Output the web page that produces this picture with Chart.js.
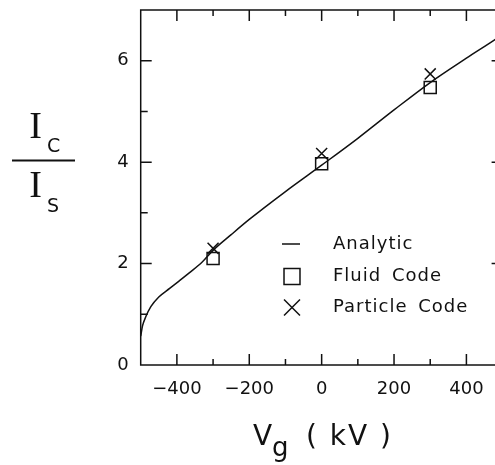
<!DOCTYPE html>
<html>
<head>
<meta charset="utf-8">
<script src="https://cdn.jsdelivr.net/npm/chart.js@4.4.1/dist/chart.umd.min.js"></script>
<style>
html, body { margin: 0; padding: 0; background: #fff; }
#wrap { width: 495px; height: 465px; overflow: hidden; }
canvas { display: block; }
</style>
</head>
<body>
<div id="wrap"><canvas id="myChart" width="520" height="465"></canvas></div>
<script>
// values: Vg in kV, ratio Ic / Is
const analyticV = [-500, -495, -486, -472, -450, -420, -395, -365, -330, -300, -250, -200, -100, 0, 100, 200, 300, 400, 480, 500];
const analyticRatio = [0.57, 0.77, 0.95, 1.15, 1.34, 1.51, 1.65, 1.82, 2.03, 2.26, 2.57, 2.87, 3.42, 3.94, 4.47, 5.03, 5.57, 6.05, 6.42, 6.52];
const fluidV = [-300, 0, 300];
const fluidRatio = [2.10, 3.97, 5.47];
const particleV = [-300, 0, 300];
const particleRatio = [2.30, 4.17, 5.74];
const xTickLabels = [-400, -200, 0, 200, 400];
const yTickLabels = [0, 2, 4, 6];

const ink = '#111';
const font = '"DejaVu Sans", sans-serif';

const toPoints = (xs, ys) => xs.map((v, i) => ({ x: v, y: ys[i] }));

// frame with inward ticks on all four sides
const frameTicks = {
    id: 'frameTicks',
    afterDatasetsDraw(chart) {
        const { ctx, chartArea: a, scales: { x, y } } = chart;
        ctx.save();
        ctx.strokeStyle = ink;
        ctx.lineWidth = 1.5;
        ctx.strokeRect(a.left, a.top, a.right - a.left, a.bottom - a.top);
        ctx.beginPath();
        x.ticks.forEach(t => {
            if (t.value <= x.min || t.value >= x.max) return;
            const px = x.getPixelForValue(t.value);
            const len = t.value % 200 === 0 ? 11 : 6;
            ctx.moveTo(px, a.bottom); ctx.lineTo(px, a.bottom - len);
            ctx.moveTo(px, a.top); ctx.lineTo(px, a.top + len);
        });
        y.ticks.forEach(t => {
            if (t.value <= y.min || t.value >= y.max) return;
            const py = y.getPixelForValue(t.value);
            const len = t.value % 2 === 0 ? 11 : 7;
            ctx.moveTo(a.left, py); ctx.lineTo(a.left + len, py);
            ctx.moveTo(a.right, py); ctx.lineTo(a.right - len, py);
        });
        ctx.stroke();
        ctx.restore();
    }
};

// legend inside the plot, symbols taken from the datasets
const innerLegend = {
    id: 'innerLegend',
    afterDraw(chart) {
        const { ctx } = chart;
        const rowsY = [244, 276.5, 307.5];
        ctx.save();
        ctx.strokeStyle = ink;
        ctx.fillStyle = 'rgba(0,0,0,0)';
        ctx.lineWidth = 1.5;
        chart.data.datasets.forEach((ds, i) => {
            const cy = rowsY[i];
            if (ds.showLine) {
                ctx.beginPath();
                ctx.moveTo(282, cy); ctx.lineTo(300, cy);
                ctx.stroke();
            } else {
                Chart.helpers.drawPoint(ctx, { pointStyle: ds.pointStyle, radius: 11.3, rotation: 0, borderWidth: 1.5 }, 292, cy);
            }
        });
        ctx.fillStyle = ink;
        ctx.font = '18px ' + font;
        ctx.textAlign = 'left';
        ctx.textBaseline = 'middle';
        ctx.letterSpacing = '1px';
        ctx.wordSpacing = '4px';
        chart.data.datasets.forEach((ds, i) => {
            ctx.fillText(ds.label, 333, rowsY[i]);
        });
        ctx.restore();
    }
};

// axis titles with subscripts
const axisTitles = {
    id: 'axisTitles',
    afterDraw(chart) {
        const { ctx } = chart;
        ctx.save();
        ctx.fillStyle = ink;
        ctx.strokeStyle = ink;
        ctx.textBaseline = 'alphabetic';
        // I_C over I_S
        ctx.textAlign = 'center';
        ctx.font = '38px "Liberation Serif", serif';
        ctx.fillText('I', 35.5, 138);
        ctx.fillText('I', 35.5, 197);
        ctx.textAlign = 'left';
        ctx.font = '19px ' + font;
        ctx.fillText('C', 47, 152);
        ctx.fillText('S', 47, 212);
        ctx.lineWidth = 1.8;
        ctx.beginPath();
        ctx.moveTo(12, 160.5); ctx.lineTo(75, 160.5);
        ctx.stroke();
        // V_g (kV)
        ctx.font = '28px ' + font;
        ctx.fillText('V', 253, 445);
        ctx.font = '26px ' + font;
        ctx.fillText('g', 272, 456);
        ctx.font = '28px ' + font;
        ctx.letterSpacing = '2px';
        ctx.fillText('( kV )', 306, 445);
        ctx.restore();
    }
};

const fmt = v => (v < 0 ? '\u2212' + Math.abs(v) : String(v));

const noEdgePadding = s => {
    s.paddingTop = 0;
    s.paddingBottom = 0;
    s.paddingLeft = 0;
    s.paddingRight = 0;
};

const config = {
    type: 'scatter',
    data: {
        datasets: [
            {
                label: 'Analytic',
                data: toPoints(analyticV, analyticRatio),
                showLine: true,
                pointRadius: 0,
                borderColor: ink,
                borderWidth: 1.5,
                cubicInterpolationMode: 'monotone'
            },
            {
                label: 'Fluid Code',
                data: toPoints(fluidV, fluidRatio),
                pointStyle: 'rect',
                pointRadius: 8.5,
                pointBorderWidth: 1.5,
                borderColor: ink,
                backgroundColor: 'rgba(0,0,0,0)'
            },
            {
                label: 'Particle Code',
                data: toPoints(particleV, particleRatio),
                pointStyle: 'crossRot',
                pointRadius: 7.8,
                pointBorderWidth: 1.5,
                borderColor: ink,
                backgroundColor: 'rgba(0,0,0,0)'
            }
        ]
    },
    options: {
        responsive: false,
        devicePixelRatio: 1,
        animation: false,
        layout: { padding: { top: 7.5, right: 17.4, left: 0, bottom: 0 } },
        plugins: {
            legend: { display: false },
            tooltip: { enabled: false }
        },
        scales: {
            x: {
                type: 'linear',
                min: -500,
                max: 500,
                grid: { display: false, drawTicks: false },
                border: { display: false },
                ticks: {
                    stepSize: 100,
                    autoSkip: false,
                    maxRotation: 0,
                    padding: 14,
                    color: ink,
                    font: { family: font, size: 18 },
                    callback: v => (xTickLabels.includes(v) ? fmt(v) : '')
                },
                afterFit: s => { noEdgePadding(s); s.height = 100; }
            },
            y: {
                type: 'linear',
                min: 0,
                max: 7,
                grid: { display: false, drawTicks: false },
                border: { display: false },
                ticks: {
                    stepSize: 1,
                    autoSkip: false,
                    padding: 12,
                    color: ink,
                    font: { family: font, size: 18 },
                    callback: v => (yTickLabels.includes(v) ? fmt(v) : '')
                },
                afterFit: s => { noEdgePadding(s); s.width = 140.7; }
            }
        }
    },
    plugins: [frameTicks, innerLegend, axisTitles]
};

new Chart(document.getElementById('myChart'), config);
</script>
</body>
</html>
